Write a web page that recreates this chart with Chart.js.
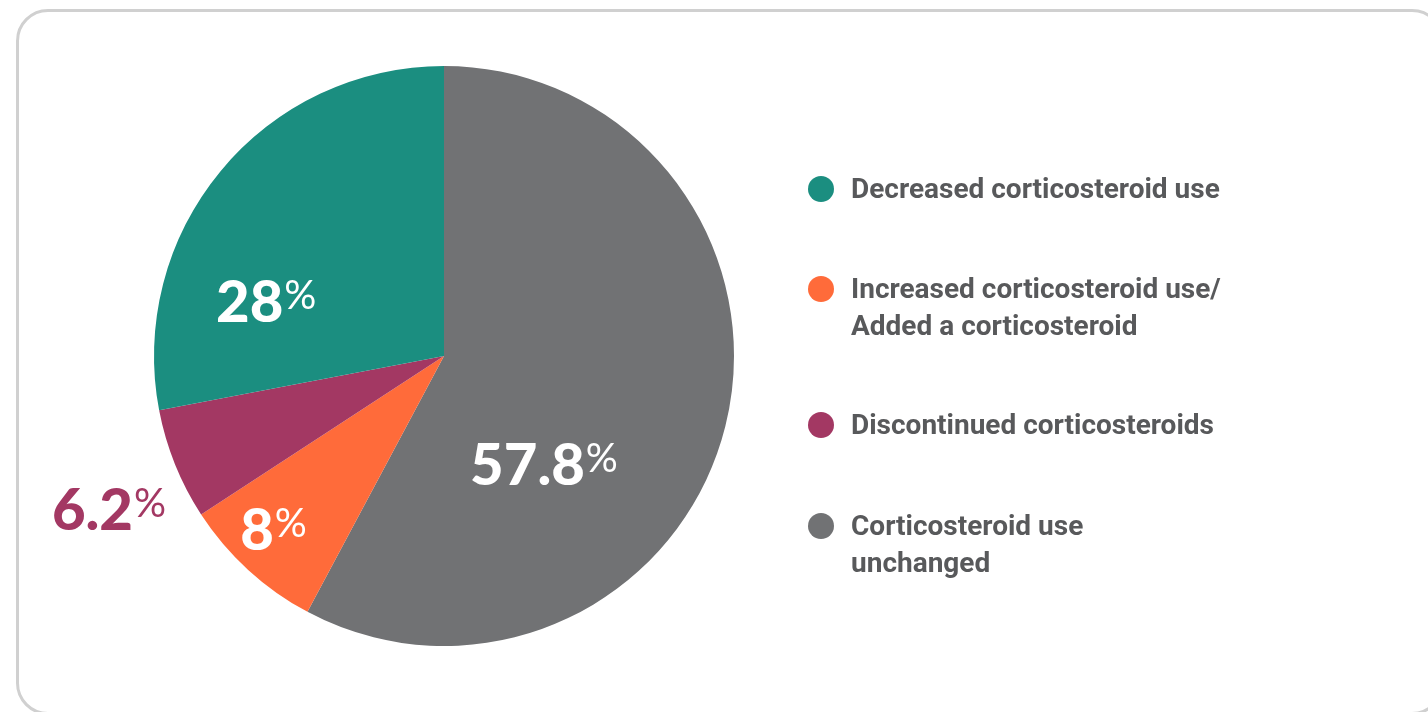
<!DOCTYPE html>
<html>
<head>
    <title>Corticosteroid Use</title>
    <script src="https://cdn.jsdelivr.net/npm/chart.js@4.4.1/dist/chart.umd.min.js"></script>
    <style>
        html, body {
            margin: 0;
            padding: 0;
            width: 1428px;
            height: 712px;
            overflow: hidden;
            background: #ffffff;
        }
        .card {
            position: absolute;
            left: 16px;
            top: 9px;
            width: 1428px;
            height: 706px;
            box-sizing: border-box;
            border: 3px solid #d0d0d0;
            border-radius: 32px;
        }
        #chartWrap {
            position: absolute;
            left: 0;
            top: 0;
            width: 1428px;
            height: 712px;
        }
        .legend {
            position: absolute;
            left: 808px;
            top: 0;
            font-family: Roboto, "Liberation Sans", sans-serif;
            font-weight: 700;
            font-size: 28px;
            color: #58595b;
        }
        .legend-item {
            position: absolute;
            left: 0;
            white-space: nowrap;
            line-height: 37px;
        }
        .legend-item .dot {
            position: absolute;
            left: 0;
            top: 6px;
            width: 26px;
            height: 26px;
            border-radius: 50%;
        }
        .legend-item .text {
            position: absolute;
            left: 43px;
            top: 0;
        }
    </style>
</head>
<body>
    <div class="card"></div>
    <div id="chartWrap">
        <canvas id="pieChart"></canvas>
    </div>
    <div class="legend" id="legend"></div>

    <script>
        // slices, clockwise from 12 o'clock
        const sliceLabels = [
            'Corticosteroid use unchanged',
            'Increased corticosteroid use/ Added a corticosteroid',
            'Discontinued corticosteroids',
            'Decreased corticosteroid use'
        ];
        const sliceValues = [57.8, 8, 6.2, 28];
        const sliceColors = ['#717274', '#ff6b3a', '#a33863', '#1b8e80'];

        // legend wording (line breaks) and the order it is listed in
        const legendLines = [
            ['Corticosteroid use', 'unchanged'],
            ['Increased corticosteroid use/', 'Added a corticosteroid'],
            ['Discontinued corticosteroids'],
            ['Decreased corticosteroid use']
        ];
        const legendOrder = [3, 1, 2, 0];
        const legendTops = [170, 270, 406, 507];

        // value label anchors, in units of the pie radius from its centre
        const labelAnchors = [
            { dx: 0.090, dy: 0.445, color: '#ffffff' },
            { dx: -0.703, dy: 0.669, color: '#ffffff' },
            { dx: -1.352, dy: 0.600, color: '#a33863' },
            { dx: -0.786, dy: -0.117, color: '#ffffff' }
        ];

        const valueLabels = {
            id: 'valueLabels',
            afterDatasetsDraw(chart) {
                const ctx = chart.ctx;
                const arc = chart.getDatasetMeta(0).data[0];
                const cx = arc.x, cy = arc.y, r = arc.outerRadius;
                const numFont = '900 58px Lato, sans-serif';
                const pctFont = '400 40px Lato, sans-serif';
                ctx.save();
                ctx.textBaseline = 'alphabetic';
                ctx.textAlign = 'left';
                sliceValues.forEach((v, i) => {
                    const a = labelAnchors[i];
                    const x = cx + a.dx * r;
                    const y = cy + a.dy * r;
                    const num = String(v);
                    ctx.fillStyle = a.color;
                    ctx.font = numFont;
                    ctx.fillText(num, x, y);
                    const w = ctx.measureText(num).width;
                    ctx.font = pctFont;
                    ctx.fillText('%', x + w + 1, y - 13);
                });
                ctx.restore();
            }
        };

        new Chart(document.getElementById('pieChart'), {
            type: 'pie',
            data: {
                labels: sliceLabels,
                datasets: [{
                    data: sliceValues,
                    backgroundColor: sliceColors,
                    borderWidth: 0
                }]
            },
            options: {
                responsive: true,
                maintainAspectRatio: false,
                animation: false,
                layout: {
                    padding: { left: 154, top: 66, right: 694, bottom: 66 }
                },
                plugins: {
                    legend: { display: false },
                    tooltip: { enabled: false }
                }
            },
            plugins: [valueLabels]
        });

        // html legend built from the slice arrays
        const legend = document.getElementById('legend');
        legendOrder.forEach((idx, row) => {
            const item = document.createElement('div');
            item.className = 'legend-item';
            item.style.top = legendTops[row] + 'px';
            const dot = document.createElement('span');
            dot.className = 'dot';
            dot.style.background = sliceColors[idx];
            const text = document.createElement('div');
            text.className = 'text';
            text.innerHTML = legendLines[idx].join('<br>');
            item.appendChild(dot);
            item.appendChild(text);
            legend.appendChild(item);
        });
    </script>
</body>
</html>
